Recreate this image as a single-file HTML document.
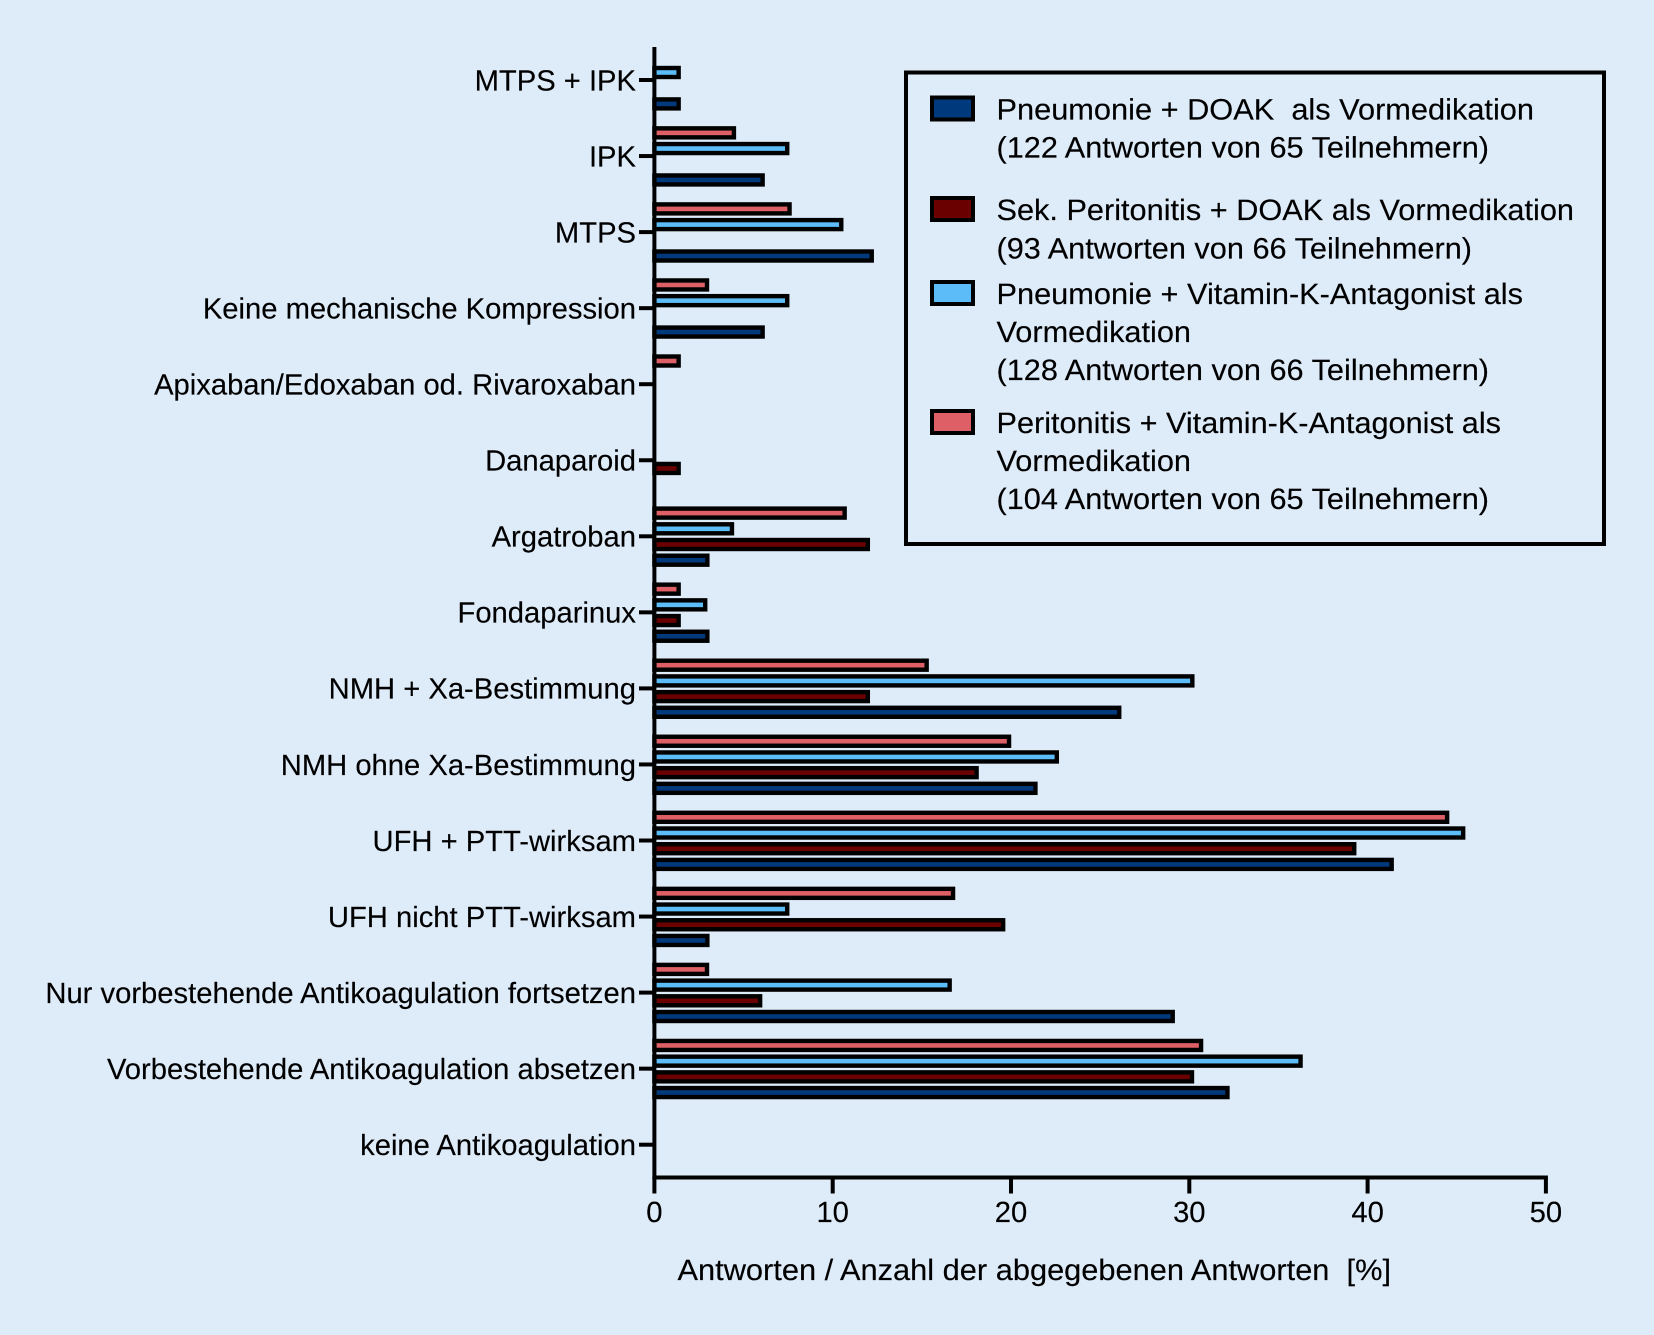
<!DOCTYPE html>
<html lang="de">
<head>
<meta charset="utf-8">
<title>Antikoagulation Balkendiagramm</title>
<style>
html,body{margin:0;padding:0;background:#deebf9;}
svg{display:block;}
text{font-family:"Liberation Sans",Arial,sans-serif;fill:#000;text-rendering:geometricPrecision;stroke:#000;stroke-width:0.15px;}
</style>
</head>
<body>
<svg id="chart" xmlns="http://www.w3.org/2000/svg" width="1654" height="1335" viewBox="0 0 1654 1335">
<rect x="0" y="0" width="1654" height="1335" fill="#deebf9"/>
<g id="bars"></g>
<g id="y-axis"></g>
<g id="x-axis"></g>
<text x="677.5" y="1280" font-size="29.5" textLength="713.5" lengthAdjust="spacingAndGlyphs" xml:space="preserve">Antworten / Anzahl der abgegebenen Antworten  [%]</text>
<g>
<rect x="906" y="72.5" width="698" height="471.5" fill="none" stroke="#000" stroke-width="4"/>
<g>
<rect x="932" y="97.5" width="41" height="22" fill="#003a7d" stroke="#000" stroke-width="4"/>
<text font-size="29.5" xml:space="preserve"><tspan x="996.5" y="119.6" textLength="537.5" lengthAdjust="spacingAndGlyphs">Pneumonie + DOAK  als Vormedikation</tspan><tspan x="996.5" y="157.6" textLength="492.5" lengthAdjust="spacingAndGlyphs">(122 Antworten von 65 Teilnehmern)</tspan></text>
</g>
<g>
<rect x="932" y="198" width="41" height="22" fill="#6b0000" stroke="#000" stroke-width="4"/>
<text font-size="29.5"><tspan x="996.5" y="220" textLength="577.5" lengthAdjust="spacingAndGlyphs">Sek. Peritonitis + DOAK als Vormedikation</tspan><tspan x="996.5" y="258.6" textLength="475.5" lengthAdjust="spacingAndGlyphs">(93 Antworten von 66 Teilnehmern)</tspan></text>
</g>
<g>
<rect x="932" y="282" width="41" height="22" fill="#5bbcf7" stroke="#000" stroke-width="4"/>
<text font-size="29.5"><tspan x="996.5" y="304" textLength="526.5" lengthAdjust="spacingAndGlyphs">Pneumonie + Vitamin-K-Antagonist als</tspan><tspan x="996.5" y="342" textLength="194.5" lengthAdjust="spacingAndGlyphs">Vormedikation</tspan><tspan x="996.5" y="380" textLength="492.5" lengthAdjust="spacingAndGlyphs">(128 Antworten von 66 Teilnehmern)</tspan></text>
</g>
<g>
<rect x="932" y="411" width="41" height="22" fill="#de5f66" stroke="#000" stroke-width="4"/>
<text font-size="29.5"><tspan x="996.5" y="433" textLength="504.5" lengthAdjust="spacingAndGlyphs">Peritonitis + Vitamin-K-Antagonist als</tspan><tspan x="996.5" y="471" textLength="194.5" lengthAdjust="spacingAndGlyphs">Vormedikation</tspan><tspan x="996.5" y="509" textLength="492.5" lengthAdjust="spacingAndGlyphs">(104 Antworten von 65 Teilnehmern)</tspan></text>
</g>
</g>
</svg>
<script>
const categories = ["MTPS + IPK","IPK","MTPS","Keine mechanische Kompression","Apixaban/Edoxaban od. Rivaroxaban","Danaparoid","Argatroban","Fondaparinux","NMH + Xa-Bestimmung","NMH ohne Xa-Bestimmung","UFH + PTT-wirksam","UFH nicht PTT-wirksam","Nur vorbestehende Antikoagulation fortsetzen","Vorbestehende Antikoagulation absetzen","keine Antikoagulation"];
const peritonitisVka = [0,4.46,7.58,2.95,1.36,0,10.67,1.36,15.27,19.89,44.46,16.75,2.95,30.66,0];
const pneumonieVka = [1.36,7.45,10.48,7.45,0,0,4.35,2.85,30.17,22.57,45.36,7.45,16.56,36.24,0];
const peritonitisDoak = [0,0,0,0,0,1.36,11.97,1.36,11.97,18.07,39.25,19.56,5.93,30.15,0];
const pneumonieDoak = [1.36,6.07,12.19,6.07,0,0,2.97,2.97,26.07,21.37,41.35,2.97,29.07,32.14,0];
const xTicks = [0,10,20,30,40,50];

const svgNS = "http://www.w3.org/2000/svg";
const x0 = 654.4, xPerUnit = 17.83, catTop = 80, catStep = 76.05;
function xScale(v){ return x0 + v * xPerUnit; }
function yScale(i){ return catTop + i * catStep; }
function make(tag, attrs){
  const el = document.createElementNS(svgNS, tag);
  for (const k in attrs) el.setAttribute(k, attrs[k]);
  return el;
}
const seriesList = [
  {key:"peritonitis-vka", values:peritonitisVka, fill:"#de5f66", offset:-23.2},
  {key:"pneumonie-vka", values:pneumonieVka, fill:"#5bbcf7", offset:-7.5},
  {key:"peritonitis-doak", values:peritonitisDoak, fill:"#6b0000", offset:8.2},
  {key:"pneumonie-doak", values:pneumonieDoak, fill:"#003a7d", offset:23.9}
];
const barsG = document.getElementById("bars");
seriesList.forEach(function(s){
  s.values.forEach(function(v, i){
    if (v <= 0) return;
    const r = make("rect", {x:xScale(0), y:yScale(i)+s.offset-4.5, width:xScale(v)-xScale(0), height:9, fill:s.fill, stroke:"#000", "stroke-width":4.4});
    
    
    barsG.appendChild(r);
  });
});
const yG = document.getElementById("y-axis");
const yLine = make("line", {x1:x0, x2:x0, y1:47, y2:1179, stroke:"#000", "stroke-width":4});


yG.appendChild(yLine);
categories.forEach(function(c, i){
  const t = make("line", {x1:639, x2:x0, y1:yScale(i), y2:yScale(i), stroke:"#000", "stroke-width":4});
  
  
  yG.appendChild(t);
  const l = make("text", {x:636, y:yScale(i)+10.3, "font-size":29.2, "text-anchor":"end"});
  
  
  l.textContent = c;
  yG.appendChild(l);
});
const xG = document.getElementById("x-axis");
const xLine = make("line", {x1:x0-2, x2:xScale(50)+2, y1:1177.5, y2:1177.5, stroke:"#000", "stroke-width":4});


xG.appendChild(xLine);
xTicks.forEach(function(v){
  const t = make("line", {x1:xScale(v), x2:xScale(v), y1:1177.5, y2:1193.5, stroke:"#000", "stroke-width":4});
  
  
  xG.appendChild(t);
  const l = make("text", {x:xScale(v), y:1222, "font-size":29.2, "text-anchor":"middle"});
  
  
  l.textContent = v;
  xG.appendChild(l);
});
</script>
</body>
</html>
